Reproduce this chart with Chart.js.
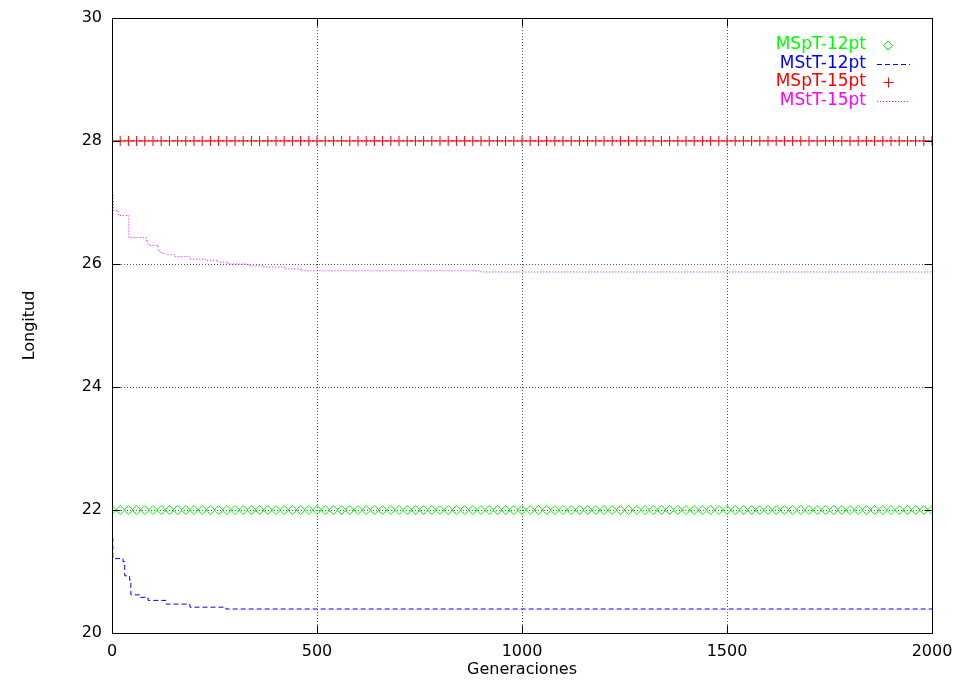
<!DOCTYPE html>
<html>
<head>
<meta charset="utf-8">
<script src="https://cdn.jsdelivr.net/npm/chart.js@4.4.1/dist/chart.umd.min.js"></script>
<style>
html,body{margin:0;padding:0;background:#fff}
#wrap{width:954px;height:680px}
</style>
</head>
<body>
<div id="wrap"><canvas id="c" width="954" height="680"></canvas></div>
<script>
// generaciones donde gnuplot dibuja los puntos (cada 20)
const markerGens=[
  0,20,40,60,80,100,120,140,160,180,200,220,240,260,280,300,320,340,360,380,
  400,420,440,460,480,500,520,540,560,580,600,620,640,660,680,700,720,740,760,780,
  800,820,840,860,880,900,920,940,960,980,1000,1020,1040,1060,1080,1100,1120,1140,1160,1180,
  1200,1220,1240,1260,1280,1300,1320,1340,1360,1380,1400,1420,1440,1460,1480,1500,1520,1540,1560,1580,
  1600,1620,1640,1660,1680,1700,1720,1740,1760,1780,1800,1820,1840,1860,1880,1900,1920,1940,1960,1980,
  2000];
const mspt12=[
  22,22,22,22,22,22,22,22,22,22,22,22,22,22,22,22,22,22,22,22,
  22,22,22,22,22,22,22,22,22,22,22,22,22,22,22,22,22,22,22,22,
  22,22,22,22,22,22,22,22,22,22,22,22,22,22,22,22,22,22,22,22,
  22,22,22,22,22,22,22,22,22,22,22,22,22,22,22,22,22,22,22,22,
  22,22,22,22,22,22,22,22,22,22,22,22,22,22,22,22,22,22,22,22,
  22];
const mspt15=[
  28,28,28,28,28,28,28,28,28,28,28,28,28,28,28,28,28,28,28,28,
  28,28,28,28,28,28,28,28,28,28,28,28,28,28,28,28,28,28,28,28,
  28,28,28,28,28,28,28,28,28,28,28,28,28,28,28,28,28,28,28,28,
  28,28,28,28,28,28,28,28,28,28,28,28,28,28,28,28,28,28,28,28,
  28,28,28,28,28,28,28,28,28,28,28,28,28,28,28,28,28,28,28,28,
  28];

// curvas escalonadas (generacion donde cambia el valor)
const mstt12Gens=[0,2,27,31,43,46,68,88,132,190,278,2000];
const mstt12=[21.55,21.21,21.16,20.93,20.86,20.62,20.58,20.53,20.47,20.42,20.39,20.39];
const mstt15Gens=[0,3,15,41,84,88,112,120,132,154,190,229,258,283,332,370,420,460,900,2000];
const mstt15=[27.15,26.87,26.79,26.43,26.36,26.30,26.21,26.17,26.15,26.12,26.08,26.06,26.03,26.00,25.97,25.95,25.92,25.89,25.87,25.87];

const xTicks=[0,500,1000,1500,2000];
const yTicks=[20,22,24,26,28,30];

const FONT='"DejaVu Sans", sans-serif';
const GRID='#5a5a5a';
const xy=(xs,ys)=>xs.map((x,i)=>({x:x,y:ys[i]}));

const series=[
  {label:'MSpT-12pt',color:'#00ff00',kind:'diamond'},
  {label:'MStT-12pt',color:'#0000ff',kind:'dash'},
  {label:'MSpT-15pt',color:'#ff0000',kind:'plus'},
  {label:'MStT-15pt',color:'#ff00ff',kind:'dot'}
];

// marco, ticks hacia dentro y leyenda al estilo gnuplot
const frame={
  id:'frame',
  afterDatasetsDraw(chart){
    const {ctx,chartArea:a,scales}=chart;
    ctx.save();
    ctx.strokeStyle='#000';ctx.lineWidth=1;
    const L=Math.round(a.left)+.5,R=Math.round(a.right)+.5,T=Math.round(a.top)+.5,B=Math.round(a.bottom)+.5;
    ctx.beginPath();
    scales.x.ticks.forEach(t=>{
      const px=Math.round(scales.x.getPixelForValue(t.value))+.5;
      ctx.moveTo(px,B);ctx.lineTo(px,B-8);ctx.moveTo(px,T);ctx.lineTo(px,T+8);
    });
    scales.y.ticks.forEach(t=>{
      const py=Math.round(scales.y.getPixelForValue(t.value))+.5;
      ctx.moveTo(L,py);ctx.lineTo(L+8,py);ctx.moveTo(R,py);ctx.lineTo(R-8,py);
    });
    ctx.stroke();
    ctx.strokeRect(L,T,R-L,B-T);

    // leyenda
    ctx.font='17px '+FONT;ctx.textAlign='right';ctx.textBaseline='middle';
    series.forEach((s,i)=>{
      const y=45+i*18.5;
      ctx.fillStyle=s.color;ctx.fillText(s.label,866,y);
      ctx.strokeStyle=s.color;ctx.lineWidth=1;
      const yy=Math.round(y)+.5;
      ctx.beginPath();
      if(s.kind==='diamond'){
        ctx.moveTo(888,yy-4.5);ctx.lineTo(892.5,yy);ctx.lineTo(888,yy+4.5);ctx.lineTo(883.5,yy);ctx.closePath();
      }else if(s.kind==='plus'){
        ctx.moveTo(883.5,yy);ctx.lineTo(893.5,yy);ctx.moveTo(888.5,yy-5);ctx.lineTo(888.5,yy+5);
      }else{
        ctx.setLineDash(s.kind==='dash'?[5,3]:[1,2]);
        ctx.moveTo(877,yy);ctx.lineTo(910,yy);
      }
      ctx.stroke();ctx.setLineDash([]);
    });
    ctx.restore();
  }
};

new Chart(document.getElementById('c'),{
  type:'line',
  data:{datasets:[
    {label:series[0].label,data:xy(markerGens,mspt12),showLine:false,pointStyle:'rectRot',pointRadius:4.5,
      borderColor:'#00ff00',pointBorderColor:'#00ff00',pointBackgroundColor:'rgba(0,0,0,0)',pointBorderWidth:1},
    {label:series[1].label,data:xy(mstt12Gens,mstt12),stepped:true,borderColor:'#0000ff',borderWidth:1,
      borderDash:[5,3],pointRadius:0,fill:false},
    {label:series[2].label,data:xy(markerGens,mspt15),showLine:false,pointStyle:'cross',pointRadius:5,
      borderColor:'#ff0000',pointBorderColor:'#ff0000',pointBorderWidth:1},
    {label:series[3].label,data:xy(mstt15Gens,mstt15),stepped:true,borderColor:'#ff00ff',borderWidth:1,
      borderDash:[1,2],pointRadius:0,fill:false}
  ]},
  options:{
    responsive:false,animation:false,
    layout:{padding:{left:0,top:18,right:22,bottom:0}},
    plugins:{legend:{display:false},tooltip:{enabled:false}},
    scales:{
      x:{type:'linear',min:0,max:2000,
        afterBuildTicks:s=>{s.ticks=xTicks.map(v=>({value:v}))},
        afterFit:s=>{s.height=47;s.paddingLeft=0;s.paddingRight=0},
        grid:{color:c=>(c.tick&&(c.tick.value===0||c.tick.value===2000))?'rgba(0,0,0,0)':GRID,lineWidth:1,drawTicks:false},
        border:{display:false,dash:[1,2]},
        ticks:{color:'#000',font:{family:FONT,size:16},padding:9,maxRotation:0,callback:v=>String(v)},
        title:{display:true,text:'Generaciones',color:'#000',font:{family:FONT,size:16},padding:{top:0,bottom:1}}
      },
      y:{min:20,max:30,
        afterBuildTicks:s=>{s.ticks=yTicks.map(v=>({value:v}))},
        afterFit:s=>{s.width=112;s.paddingTop=0;s.paddingBottom=0},
        grid:{color:c=>(c.tick&&(c.tick.value===20||c.tick.value===30))?'rgba(0,0,0,0)':GRID,lineWidth:1,drawTicks:false},
        border:{display:false,dash:[1,2]},
        ticks:{color:'#000',font:{family:FONT,size:16},padding:10,callback:v=>String(v)},
        title:{display:true,text:'Longitud',color:'#000',font:{family:FONT,size:16},padding:{top:20,bottom:0}}
      }
    }
  },
  plugins:[frame]
});
</script>
</body>
</html>
